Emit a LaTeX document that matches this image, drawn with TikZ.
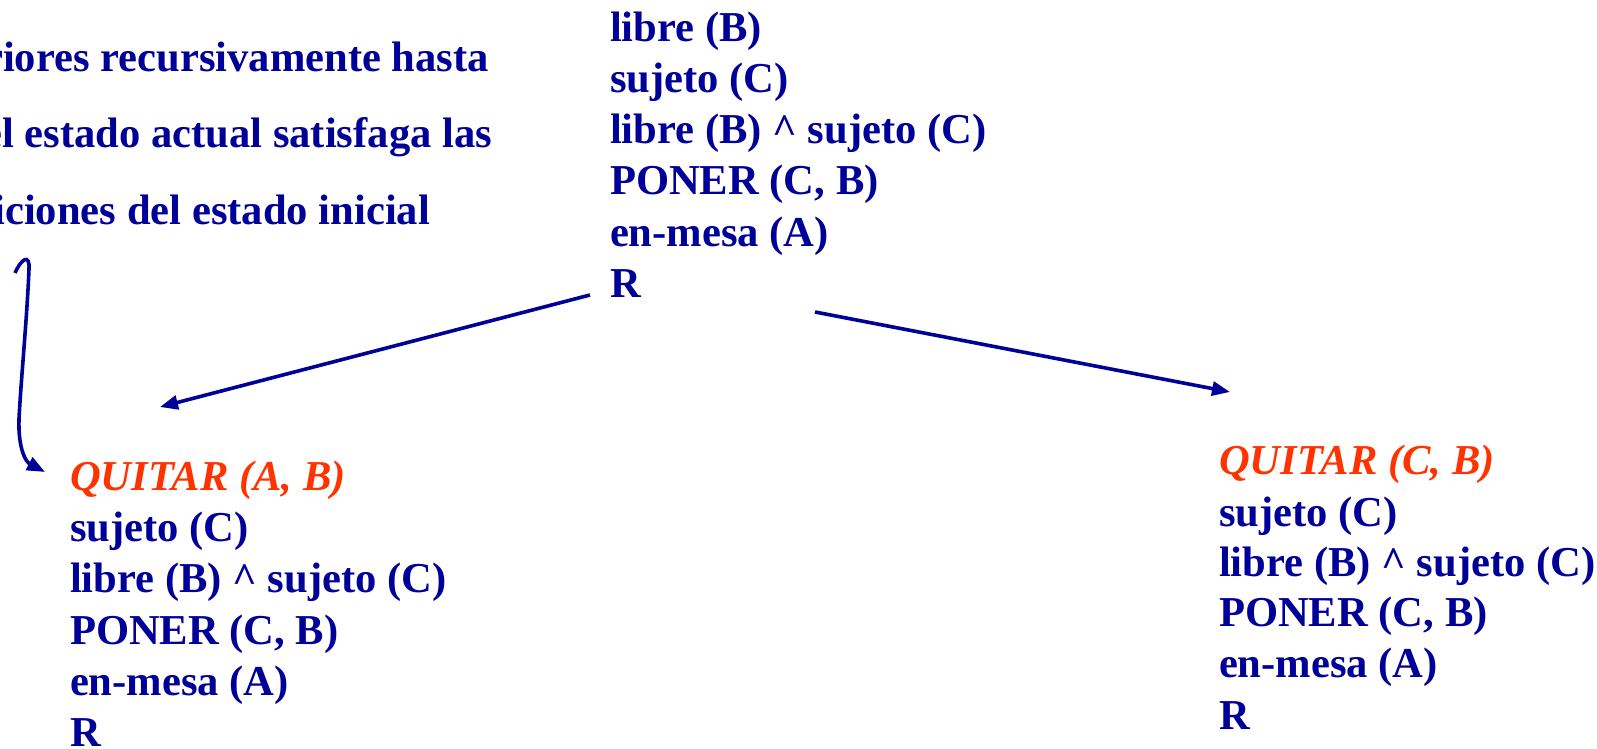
\documentclass[tikz,border=0pt]{standalone}
\usepackage{fontspec}
\setmainfont{Liberation Serif}
\usetikzlibrary{arrows.meta}
\definecolor{dblue}{RGB}{0,0,153}
\definecolor{qred}{RGB}{255,51,0}
\tikzset{
  txt/.style={inner sep=0pt, outer sep=0pt, anchor=base west, text=dblue, font=\fontsize{42.6}{51}\selectfont\bfseries},
  rtxt/.style={txt, anchor=base east},
  qtxt/.style={txt, text=qred, font=\fontsize{42.6}{51}\selectfont\bfseries\itshape},
  conn/.style={draw=dblue, line width=3.6pt, -{Triangle[length=18pt,width=14pt]}}
}
\begin{document}
\begin{tikzpicture}[x=1pt,y=1pt]
\useasboundingbox (0,0) rectangle (1597,749);
\clip (0,0) rectangle (1597,749);
% top-left text (cut by the frame)
\node[rtxt] (t1) at (489,677) {riores recursivamente hasta};
\node[rtxt] (t2) at (492,601) {el estado actual satisfaga las};
\node[rtxt] (t3) at (430,524) {iciones del estado inicial};
% middle block
\node[txt] (m1) at (610,707) {libre (B)};
\node[txt] (m2) at (610,656) {sujeto (C)};
\node[txt] (m3) at (610,605) {libre (B) \textasciicircum{} sujeto (C)};
\node[txt] (m4) at (610,554) {PONER (C, B)};
\node[txt] (m5) at (610,502) {en-mesa (A)};
\node[txt] (m6) at (610,451) {R};
% left block
\node[qtxt] (l1) at (70,258) {QUITAR (A, B)};
\node[txt] (l2) at (70,207) {sujeto (C)};
\node[txt] (l3) at (70,156) {libre (B) \textasciicircum{} sujeto (C)};
\node[txt] (l4) at (70,104) {PONER (C, B)};
\node[txt] (l5) at (70,53) {en-mesa (A)};
\node[txt] (l6) at (70,2) {R};
% right block
\node[qtxt] (r1) at (1219,274) {QUITAR (C, B)};
\node[txt] (r2) at (1219,222) {sujeto (C)};
\node[txt] (r3) at (1219,172) {libre (B) \textasciicircum{} sujeto (C)};
\node[txt] (r4) at (1219,122) {PONER (C, B)};
\node[txt] (r5) at (1219,71) {en-mesa (A)};
\node[txt] (r6) at (1219,19) {R};
% connector ends
\coordinate (a1s) at (590,454);
\coordinate (a1e) at (160,342);
\coordinate (a2s) at (815,437);
\coordinate (a2e) at (1230,357);
\coordinate (cs) at (15,476);
\coordinate (ce) at (45,277);
\draw[conn] (a1s) -- (a1e);
\draw[conn] (a2s) -- (a2e);
\draw[conn] (cs) .. controls (21,490) and (30,496) .. (29,480)
  .. controls (27,430) and (21,370) .. (19,330)
  .. controls (18,300) and (26,287) .. (ce);
\end{tikzpicture}
\end{document}
